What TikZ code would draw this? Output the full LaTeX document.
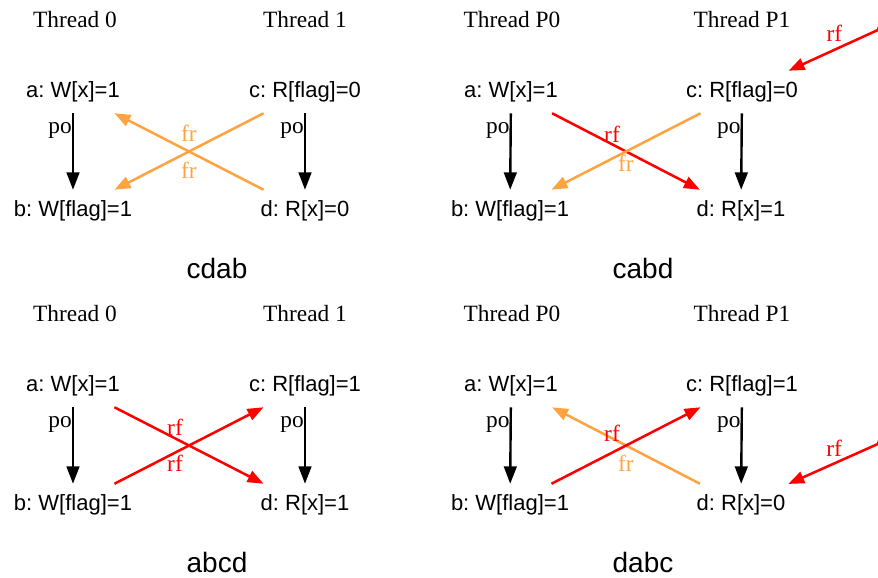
\documentclass[tikz,border=0pt]{standalone}
\usepackage{fontspec}
\setmainfont{Liberation Serif}
\setsansfont{Liberation Sans}
\frenchspacing
\definecolor{frorange}{RGB}{255, 163, 64}
\definecolor{rfred}{RGB}{255, 0, 0}
\usetikzlibrary{arrows.meta, positioning}

\begin{document}
\begin{tikzpicture}[
  x=0.75pt, y=-0.75pt,
  ev/.style={font=\sffamily\fontsize{16.5}{19}\selectfont, minimum height=31.5pt, inner xsep=2pt},
  thr/.style={font=\fontsize{17.5}{20}\selectfont, inner sep=0pt},
  caption/.style={font=\sffamily\fontsize{21}{24}\selectfont, inner sep=0pt},
  lbl/.style={font=\fontsize{17.5}{20}\selectfont, inner sep=0pt},
  po/.style={-{Triangle[length=13pt, width=9.5pt]}, line width=1.8pt, black},
  fr/.style={-{Triangle[length=12pt, width=9pt]}, line width=1.9pt, frorange},
  rf/.style={-{Triangle[length=12pt, width=9pt]}, line width=1.9pt, rfred}
]
  \useasboundingbox (0,0) rectangle (878,578);

  % cdab
  \node[thr] (t10) at (75, 20) {Thread 0};
  \node[thr] (t11) at (305, 20) {Thread 1};
  \node[ev] (a1) at (73, 92) {a: W[x]=1};
  \node[ev] (b1) at (73, 211) {b: W[flag]=1};
  \node[ev] (c1) at (305, 92) {c: R[flag]=0};
  \node[ev] (d1) at (305, 211) {d: R[x]=0};
  \node[caption] (cap1) at (217, 268) {cdab};
  \draw[po] (a1) -- node[lbl, pos=0.22, anchor=east] {po} (b1);
  \draw[po] (c1) -- node[lbl, pos=0.22, anchor=east] {po} (d1);
  \draw[fr] (d1) -- node[lbl, midway, yshift=14pt, text=frorange] {fr} (a1);
  \draw[fr] (c1) -- node[lbl, midway, yshift=-14pt, text=frorange] {fr} (b1);

  % cabd
  \node[thr] (t20) at (512, 20) {Thread P0};
  \node[thr] (t21) at (742, 20) {Thread P1};
  \node[ev] (a2) at (511, 92) {a: W[x]=1};
  \node[ev] (b2) at (510, 211) {b: W[flag]=1};
  \node[ev] (c2) at (742, 92) {c: R[flag]=0};
  \node[ev] (d2) at (741, 211) {d: R[x]=1};
  \node[caption] (cap2) at (643, 268) {cabd};
  \coordinate (ext2) at (880, 29);
  \fill[rfred] (ext2) circle[radius=2.4pt];
  \draw[po] (a2) -- node[lbl, pos=0.22, anchor=east] {po} (b2);
  \draw[po] (c2) -- node[lbl, pos=0.22, anchor=east] {po} (d2);
  \draw[rf] (a2) -- node[lbl, midway, xshift=-10.5pt, yshift=13pt, text=rfred] {rf} (d2);
  \draw[fr] (c2) -- node[lbl, midway, yshift=-8.6pt, text=frorange] {fr} (b2);
  \draw[rf] (ext2) -- node[lbl, midway, yshift=12.5pt, text=rfred] {rf} (c2);

  % abcd
  \node[thr] (t30) at (75, 314) {Thread 0};
  \node[thr] (t31) at (305, 314) {Thread 1};
  \node[ev] (a3) at (73, 386) {a: W[x]=1};
  \node[ev] (b3) at (73, 505) {b: W[flag]=1};
  \node[ev] (c3) at (305, 386) {c: R[flag]=1};
  \node[ev] (d3) at (305, 505) {d: R[x]=1};
  \node[caption] (cap3) at (217, 562) {abcd};
  \draw[po] (a3) -- node[lbl, pos=0.22, anchor=east] {po} (b3);
  \draw[po] (c3) -- node[lbl, pos=0.22, anchor=east] {po} (d3);
  \draw[rf] (a3) -- node[lbl, midway, xshift=-10.5pt, yshift=13.5pt, text=rfred] {rf} (d3);
  \draw[rf] (b3) -- node[lbl, midway, xshift=-10.5pt, yshift=-13.5pt, text=rfred] {rf} (c3);

  % dabc
  \node[thr] (t40) at (512, 314) {Thread P0};
  \node[thr] (t41) at (742, 314) {Thread P1};
  \node[ev] (a4) at (511, 386) {a: W[x]=1};
  \node[ev] (b4) at (510, 505) {b: W[flag]=1};
  \node[ev] (c4) at (742, 386) {c: R[flag]=1};
  \node[ev] (d4) at (741, 505) {d: R[x]=0};
  \node[caption] (cap4) at (643, 562) {dabc};
  \coordinate (ext4) at (880, 443);
  \fill[rfred] (ext4) circle[radius=2.4pt];
  \draw[po] (a4) -- node[lbl, pos=0.22, anchor=east] {po} (b4);
  \draw[po] (c4) -- node[lbl, pos=0.22, anchor=east] {po} (d4);
  \draw[fr] (d4) -- node[lbl, midway, yshift=-13pt, text=frorange] {fr} (a4);
  \draw[rf] (b4) -- node[lbl, midway, xshift=-10.5pt, yshift=9.5pt, text=rfred] {rf} (c4);
  \draw[rf] (ext4) -- node[lbl, midway, yshift=11.5pt, text=rfred] {rf} (d4);
\end{tikzpicture}
\end{document}
